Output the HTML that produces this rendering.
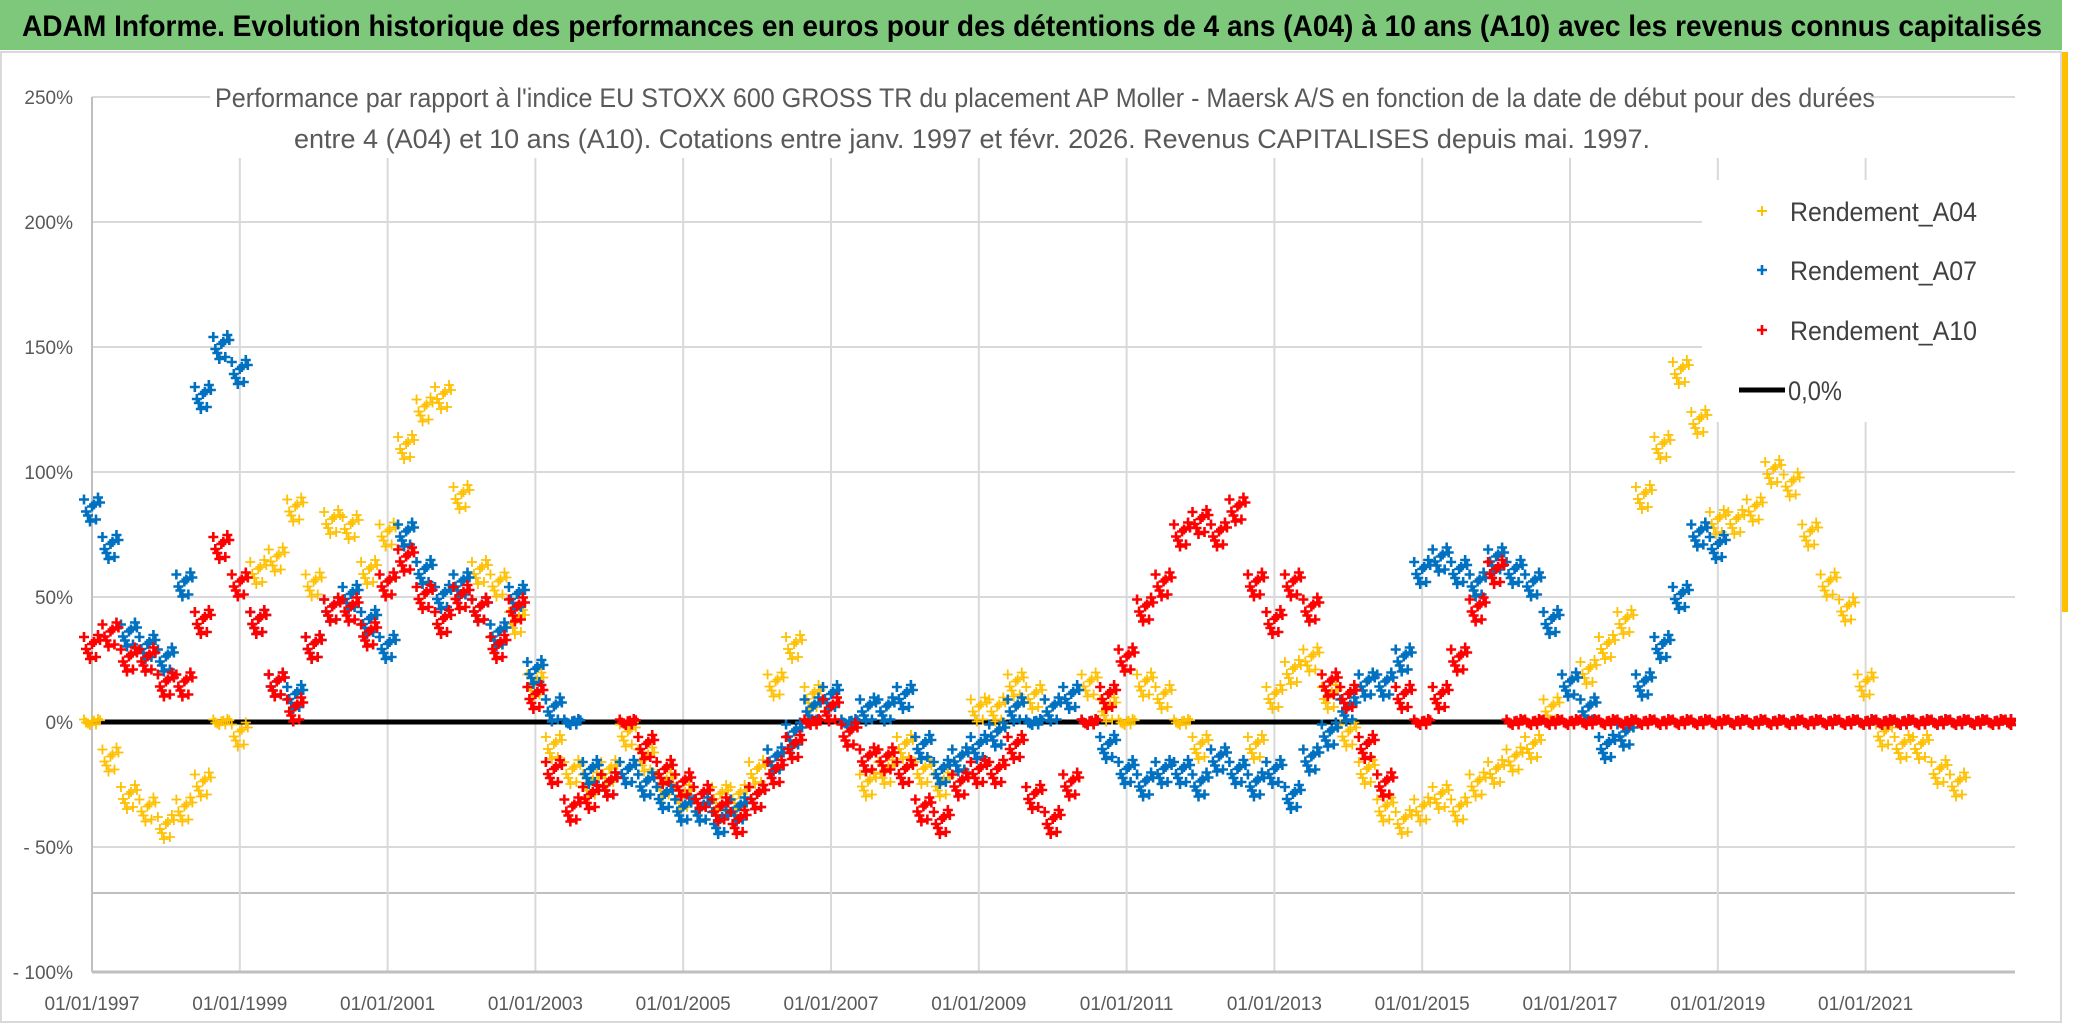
<!DOCTYPE html>
<html><head><meta charset="utf-8"><style>
html,body{margin:0;padding:0;background:#fff;width:2086px;height:1031px;overflow:hidden}
svg{display:block}
text{font-family:"Liberation Sans Narrow","Liberation Sans",sans-serif}
</style></head><body>
<svg id="chart" width="2086" height="1031" viewBox="0 0 2086 1031">
<rect x="0" y="0" width="2086" height="1031" fill="#fff"/>
<rect x="1" y="52" width="2060" height="970" fill="none" stroke="#d9d9d9" stroke-width="2"/>
<rect x="0" y="0" width="2062" height="50" fill="#7ec87c"/>
<text x="1032" y="36" text-anchor="middle" font-size="30" font-weight="bold" fill="#000" textLength="2020" lengthAdjust="spacingAndGlyphs">ADAM Informe. Evolution historique des performances en euros pour des détentions de 4 ans (A04) à 10 ans (A10) avec les revenus connus capitalisés</text>
<rect x="2062" y="52" width="6" height="560" fill="#ffc000"/>
<g id="grid"></g>
<text x="1045" y="107" text-anchor="middle" font-size="27" fill="#595959" textLength="1660" lengthAdjust="spacingAndGlyphs">Performance par rapport à l'indice EU STOXX 600 GROSS TR  du placement AP Moller - Maersk A/S en fonction de la date de début pour des durées</text>
<text x="972" y="148" text-anchor="middle" font-size="27" fill="#595959" textLength="1356" lengthAdjust="spacingAndGlyphs">entre 4 (A04) et 10 ans (A10). Cotations entre janv. 1997 et févr. 2026. Revenus CAPITALISES depuis mai. 1997.</text>
<g id="axes"></g>
<g id="marks"></g>
<g>
 <g>
  <path d="M1757 211h10M1762 206v10" stroke="#ffc000" stroke-width="2"/>
  <text x="1790" y="221" font-size="27" fill="#404040" textLength="187" lengthAdjust="spacingAndGlyphs">Rendement_A04</text>
 </g>
 <g>
  <path d="M1757 270h10M1762 265v10" stroke="#0070c0" stroke-width="2.6"/>
  <text x="1790" y="280" font-size="27" fill="#404040" textLength="187" lengthAdjust="spacingAndGlyphs">Rendement_A07</text>
 </g>
 <g>
  <path d="M1757 330h10M1762 325v10" stroke="#ff0000" stroke-width="2.6"/>
  <text x="1790" y="340" font-size="27" fill="#404040" textLength="187" lengthAdjust="spacingAndGlyphs">Rendement_A10</text>
 </g>
 <g>
  <line x1="1739" y1="390" x2="1785" y2="390" stroke="#000" stroke-width="5"/>
  <text x="1788" y="400" font-size="27" fill="#404040" textLength="54" lengthAdjust="spacingAndGlyphs">0,0%</text>
 </g>
</g>
</svg>
<script>
// ---- data ----
const startYear = 1997;
const stepYears = 0.25;
const yTicks = [250, 200, 150, 100, 50, 0, -50, -100];
const yTickLabels = ["250%", "200%", "150%", "100%", "50%", "0%", "- 50%", "- 100%"];
const xTickYears = [1997, 1999, 2001, 2003, 2005, 2007, 2009, 2011, 2013, 2015, 2017, 2019, 2021];
const xTickLabels = ["01/01/1997","01/01/1999","01/01/2001","01/01/2003","01/01/2005","01/01/2007","01/01/2009","01/01/2011","01/01/2013","01/01/2015","01/01/2017","01/01/2019","01/01/2021"];
const a04Values = [0,-15,-30,-35, -42,-35,-25,0, -5,60,65,85, 55,80,78,60, 75,110,125,130, 90,60,55,40, 15,-10,-20,-25, -20,-5,-15,-25, -30,-35,-30,-30, -20,15,30,10, 5,0,-25,-20, -10,-20,-25,-15, 5,5,15,10, 5,10,15,5, 0,15,10,0, -10,-15,-20,-10, 10,20,25,10, -5,-20,-35,-40, -35,-30,-35,-25, -20,-15,-10,5, 15,20,30,40, 90,110,140,120, 80,80,85,100, 95,75,55,45, 15,-5,-10,-10, -20,-25,0,0, 0];
const a07Values = [85,70,35,30, 25,55,130,150, 140,40,15,10, 30,45,50,40, 30,75,60,50, 55,45,35,50, 20,5,0,-20, -25,-20,-25,-30, -35,-35,-40,-35, -30,-15,-5,5, 10,0,5,5, 10,-10,-20,-15, -10,-5,5,0, 5,10,0,-10, -20,-25,-20,-20, -25,-15,-20,-25, -20,-30,-15,-5, 5,15,15,25, 60,65,60,55, 65,60,55,40, 15,5,-10,-5, 15,30,50,75, 70,0,0,0, 0,0,0,0, 0,0,0,0, 0,0,0,0, 0];
const a10Values = [30,35,25,25, 15,15,40,70, 55,40,15,5, 30,45,45,35, 55,65,50,40, 50,45,30,45, 10,-20,-35,-30, -25,0,-10,-20, -25,-30,-35,-40, -30,-20,-10,0, 5,-5,-15,-15, -20,-35,-40,-25, -20,-20,-10,-30, -40,-25,0,10, 25,45,55,75, 80,75,85,55, 40,55,45,15, 10,-10,-25,10, 0,10,25,45, 60,0,0,0, 0,0,0,0, 0,0,0,0, 0,0,0,0, 0,0,0,0, 0,0,0,0, 0,0,0,0, 0];

// ---- axes functions ----
const X0 = 92, PX_PER_YEAR = 73.9, Y0 = 722, PX_PER_PCT = 2.5, XR = 2015;
function xScale(year){ return X0 + (year - 1997) * PX_PER_YEAR; }
function yScale(v){ return Y0 - v * PX_PER_PCT; }
const NS = "http://www.w3.org/2000/svg";
function mk(tag, attrs){ const e = document.createElementNS(NS, tag); for (const k in attrs) e.setAttribute(k, attrs[k]); return e; }

const grid = document.getElementById('grid');
const axes = document.getElementById('axes');
const marks = document.getElementById('marks');

yTicks.forEach((t, i) => {
  const y = yScale(t);
  if (t === 250) {
    const l1 = mk('line', {x1: X0, y1: y, x2: 210, y2: y, stroke: '#d9d9d9', 'stroke-width': 2});
    
    
    grid.appendChild(l1);
    const l2 = mk('line', {x1: 1870, y1: y, x2: XR, y2: y, stroke: '#d9d9d9', 'stroke-width': 2});
    
    
    grid.appendChild(l2);
  } else if (t >= 150 && t < 250) {
    const l = mk('line', {x1: X0, y1: y, x2: 1702, y2: y, stroke: '#d9d9d9', 'stroke-width': 2});
    
    
    grid.appendChild(l);
  } else if (t !== -100) {
    const l = mk('line', {x1: X0, y1: y, x2: XR, y2: y, stroke: '#d9d9d9', 'stroke-width': 2});
    
    
    grid.appendChild(l);
  }
  const lab = mk('text', {x: 73, y: y + 7, 'text-anchor': 'end', 'font-size': 19, fill: '#595959'});
  lab.textContent = yTickLabels[i];
  
  
  axes.appendChild(lab);
});
const extra = mk('line', {x1: X0, y1: 893, x2: XR, y2: 893, stroke: '#bfbfbf', 'stroke-width': 2});


grid.appendChild(extra);

xTickYears.forEach((yr, i) => {
  const x = xScale(yr);
  if (i > 0) {
    const top = x > 1702 ? 422 : 158;
    const l = mk('line', {x1: x, y1: top, x2: x, y2: 972, stroke: '#d9d9d9', 'stroke-width': 2});
    
    
    grid.appendChild(l);
    if (x > 1702) {
      const s = mk('line', {x1: x, y1: 158, x2: x, y2: 180, stroke: '#d9d9d9', 'stroke-width': 2});
      
      
      grid.appendChild(s);
    }
  }
  const lab = mk('text', {x: x, y: 1010, 'text-anchor': 'middle', 'font-size': 19, fill: '#595959'});
  lab.textContent = xTickLabels[i];
  
  
  axes.appendChild(lab);
});
const yAxis = mk('line', {x1: X0, y1: yScale(250), x2: X0, y2: 972, stroke: '#bfbfbf', 'stroke-width': 2});


axes.appendChild(yAxis);
const xAxis = mk('line', {x1: X0, y1: 972, x2: XR, y2: 972, stroke: '#bfbfbf', 'stroke-width': 3});


axes.appendChild(xAxis);

const zero = mk('line', {x1: X0, y1: yScale(0), x2: XR, y2: yScale(0), stroke: '#000', 'stroke-width': 5});


marks.appendChild(zero);

// scatter series (each value drawn as a small cluster of + markers)
const offX = [-8, -4, 0, 4, 8, -6, 6, -2, 2];
const offY = [-10, 6, -3, 10, -7, 2, -12, 12, -5];
function drawSeries(values, color, sw, name){
  const g = mk('g', {stroke: color, 'stroke-width': sw, fill: 'none'});
  
  
  values.forEach((v, i) => {
    const yr = startYear + i * stepYears;
    const cx = xScale(yr), cy = yScale(v);
    if (cx > XR + 2) return;
    let d = '';
    for (let k = 0; k < offX.length; k++) {
      const px = Math.min(XR - 4, cx + offX[k]), py = cy + (v === 0 ? offY[k] * 0.25 : offY[k]);
      d += 'M' + (px - 5) + ' ' + py + 'h10M' + px + ' ' + (py - 5) + 'v10';
    }
    const p = mk('path', {d: d});
    
    
    g.appendChild(p);
  });
  marks.appendChild(g);
}
drawSeries(a04Values, '#ffc000', 1.8, 'series-a04');
drawSeries(a07Values, '#0070c0', 2.6, 'series-a07');
drawSeries(a10Values, '#ff0000', 2.6, 'series-a10');
</script>
</body></html>
